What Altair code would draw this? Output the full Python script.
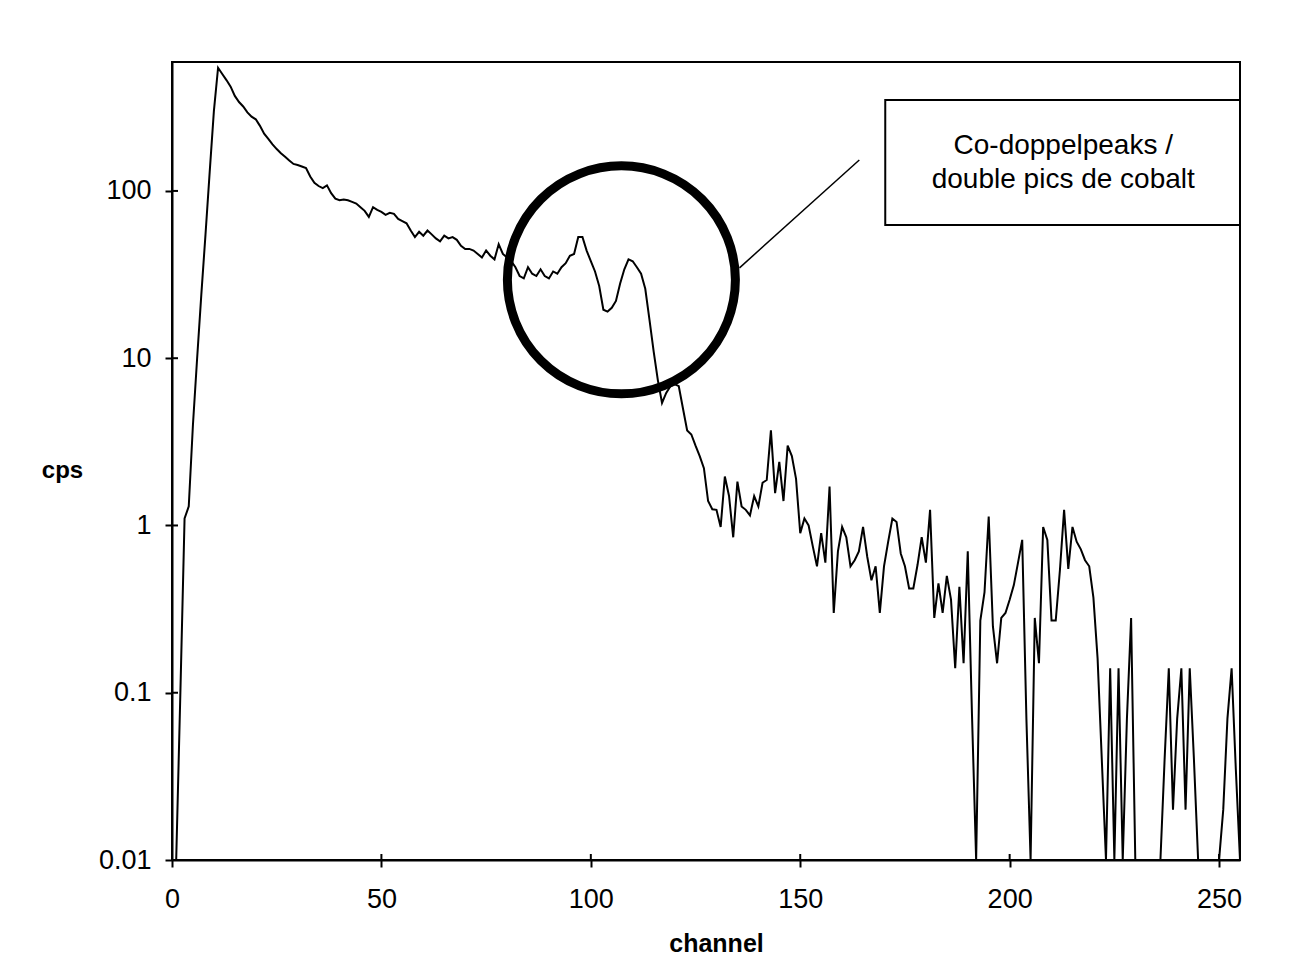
import altair as alt
import pandas as pd

# ---------------- data ----------------
counts = [
    0.01, 0.01, 0.1, 1.1, 1.3, 4, 10, 24, 55, 130,            # 0-9
    300, 545, 500, 460, 420, 370, 340, 320, 295, 278,          # 10-19
    268, 245, 220, 205, 190, 178, 168, 160, 152, 145,          # 20-29
    143, 140, 137, 122, 112, 107, 104, 108, 97, 90,            # 30-39
    88, 89, 88, 86, 84, 80, 76, 70, 80, 77,                    # 40-49
    75, 72, 74, 73, 68, 66, 64, 58, 53, 57,                    # 50-59
    54, 58, 55, 52, 50, 54, 52, 53, 51, 47,                    # 60-69
    45, 45, 44, 42, 40, 44, 41, 39, 48, 42,                    # 70-79
    40, 38, 35, 31, 30, 35, 32, 31, 34, 31,                    # 80-89
    30, 33, 32, 35, 37, 41, 42, 53, 53, 44,                    # 90-99
    38, 33, 27, 19.5, 19, 20, 22, 28, 34, 39,                  # 100-109
    38, 35, 32, 26, 17, 11, 7.4, 5.4, 6.2, 6.8,                # 110-119
    7, 6.8, 5.0, 3.7, 3.5, 3.0, 2.6, 2.2, 1.4, 1.25,           # 120-129
    1.24, 0.98, 1.96, 1.5, 0.85, 1.83, 1.3, 1.24, 1.15, 1.5,   # 130-139
    1.3, 1.8, 1.87, 3.7, 1.56, 2.4, 1.4, 3.0, 2.6, 1.9,        # 140-149
    0.9, 1.1, 1.0, 0.75, 0.57, 0.9, 0.6, 1.71, 0.3, 0.7,       # 150-159
    0.98, 0.85, 0.57, 0.62, 0.7, 0.98, 0.65, 0.47, 0.57, 0.3,  # 160-169
    0.57, 0.8, 1.1, 1.05, 0.68, 0.57, 0.42, 0.42, 0.58, 0.85,  # 170-179
    0.6, 1.24, 0.28, 0.45, 0.3, 0.5, 0.36, 0.14, 0.43, 0.15,   # 180-189
    0.7, 0.075, 0.01, 0.27, 0.4, 1.13, 0.25, 0.15, 0.28, 0.3,  # 190-199
    0.36, 0.44, 0.6, 0.82, 0.07, 0.01, 0.28, 0.15, 0.98, 0.82, # 200-209
    0.27, 0.27, 0.54, 1.24, 0.55, 0.98, 0.8, 0.72, 0.62, 0.57, # 210-219
    0.37, 0.16, 0.04, 0.01, 0.14, 0.01, 0.14, 0.01, 0.07, 0.28,# 220-229
    0.01, 0.01, 0.01, 0.01, 0.01, 0.01, 0.01, 0.04, 0.14, 0.02,# 230-239
    0.07, 0.14, 0.02, 0.14, 0.04, 0.01, 0.01, 0.01, 0.01, 0.01,# 240-249
    0.01, 0.02, 0.07, 0.14, 0.035, 0.01,                       # 250-255
]
channels = list(range(len(counts)))

x_ticks = [0, 50, 100, 150, 200, 250]
y_ticks = [0.01, 0.1, 1, 10, 100]

circle_channel = [107.3]
circle_cps = [29.4]

leader_channel = [135.5]
leader_channel2 = [164.1]
leader_cps = [34.7]
leader_cps2 = [153]

box_channel = [170.3]
box_channel2 = [255]
box_cps = [62.6]
box_cps2 = [350]

note_lines = ["Co-doppelpeaks /", "double pics de cobalt"]
note_channel = [212.8, 212.8]
note_cps = [186, 116]

# ---------------- chart ----------------
FONT = "Liberation Sans"
xscale = alt.Scale(domain=[0, 255], nice=False, zero=False)
yscale = alt.Scale(type="log", domain=[0.01, 590], nice=False)

x_axis = alt.Axis(values=x_ticks, title="channel", grid=False,
                  labelFont=FONT, labelFontSize=27, labelColor="black",
                  labelFlush=False, labelPadding=19, tickSize=7, tickWidth=2,
                  tickColor="black", domainColor="black", domainWidth=2,
                  titleFont=FONT, titleFontSize=25, titleFontWeight="bold",
                  titleColor="black", titleY=83, titleX=544,
                  titleBaseline="middle")
y_axis = alt.Axis(values=y_ticks, format="~g", title="cps", grid=False,
                  labelFont=FONT, labelFontSize=27, labelColor="black",
                  labelFlush=False, labelPadding=14, tickSize=7, tickWidth=2,
                  tickColor="black", domainColor="black", domainWidth=2,
                  titleFont=FONT, titleFontSize=24, titleFontWeight="bold",
                  titleColor="black", titleAngle=0, titleX=-110, titleY=408,
                  titleAlign="center", titleBaseline="middle")

X = lambda: alt.X("channel:Q", scale=xscale, axis=x_axis, title="channel")
Y = lambda: alt.Y("cps:Q", scale=yscale, axis=y_axis, title="cps")

spec_df = pd.DataFrame({"channel": channels, "cps": counts})

line = alt.Chart(spec_df).mark_line(color="black", strokeWidth=2).encode(x=X(), y=Y())

circle = alt.Chart(pd.DataFrame({"channel": circle_channel, "cps": circle_cps})).mark_point(
    shape="circle", size=228 * 228, filled=False, strokeWidth=9, color="black", opacity=1
).encode(x=X(), y=Y())

leader = alt.Chart(pd.DataFrame({"channel": leader_channel, "channel2": leader_channel2,
                                 "cps": leader_cps, "cps2": leader_cps2})).mark_rule(
    color="black", strokeWidth=1.5
).encode(x=X(), x2="channel2:Q", y=Y(), y2="cps2:Q")

box = alt.Chart(pd.DataFrame({"channel": box_channel, "channel2": box_channel2,
                              "cps": box_cps, "cps2": box_cps2})).mark_rect(
    fill="white", stroke="black", strokeWidth=2
).encode(x=X(), x2="channel2:Q", y=Y(), y2="cps2:Q")

note = alt.Chart(pd.DataFrame({"channel": note_channel, "cps": note_cps,
                               "label": note_lines})).mark_text(
    font=FONT, fontSize=28, color="black", align="center", baseline="middle"
).encode(x=X(), y=Y(), text="label:N")

ytick_in = alt.Chart(pd.DataFrame({"cps": y_ticks})).mark_rule(
    color="black", strokeWidth=2
).encode(y=Y(), x=alt.value(0), x2=alt.value(6))

xtick_in = alt.Chart(pd.DataFrame({"channel": x_ticks})).mark_rule(
    color="black", strokeWidth=2
).encode(x=X(), y=alt.value(798), y2=alt.value(792))

chart = alt.layer(line, circle, leader, box, note, ytick_in, xtick_in).properties(
    width=1068, height=798,
    autosize=alt.AutoSizeParams(type="none"),
    padding={"left": 164, "top": 54, "right": 60, "bottom": 100},
    background="white",
).configure_view(stroke="black", strokeWidth=2)

chart.save("out.html", embed_options={"renderer": "svg", "actions": False})
